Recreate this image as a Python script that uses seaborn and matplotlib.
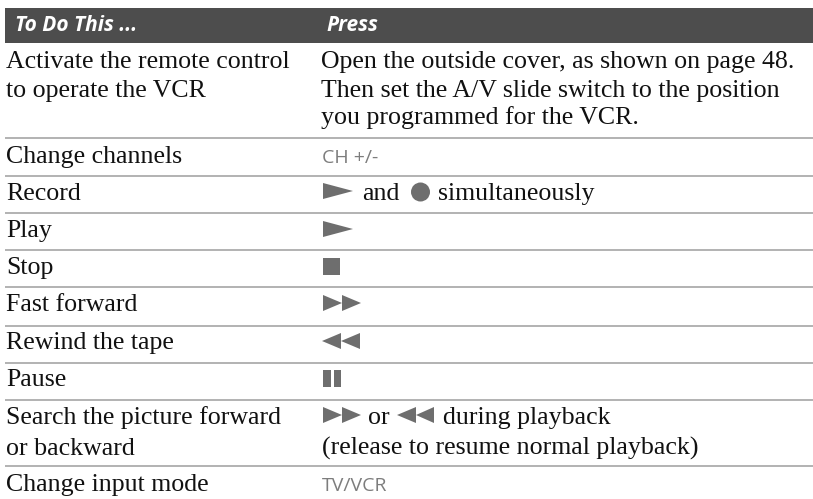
import seaborn as sns
import matplotlib
matplotlib.use("Agg")
import matplotlib.pyplot as plt
from matplotlib.patches import Polygon, Rectangle, Circle

sns.set_theme(style="white")

headers = ["To Do This ...", "Press"]
actions = ["Activate the remote control", "to operate the VCR", "Change channels", "Record", "Play", "Stop",
           "Fast forward", "Rewind the tape", "Pause", "Search the picture forward", "or backward",
           "Change input mode"]
open_cover = ["Open the outside cover, as shown on page 48.",
              "Then set the A/V slide switch to the position",
              "you programmed for the VCR."]
button_labels = ["CH +/-", "TV/VCR"]
record_words = ["and", "simultaneously"]
search_words = ["or", "during playback", "(release to resume normal playback)"]

W, H = 813, 499
DARK = "#4d4d4d"
RULE = "#b2b2b2"
ICON = "#6e6e6e"
BODY = dict(family="Liberation Serif", fontsize=18.6, color="#111111", va="baseline")
KEY = dict(family="Open Sans", fontsize=14, color="#7d7d7d", va="baseline")

fig = plt.figure(figsize=(W / 100, H / 100), dpi=100)
ax = fig.add_axes([0, 0, 1, 1])
ax.set_xlim(0, W)
ax.set_ylim(H, 0)
ax.axis("off")

# header band
ax.add_patch(Rectangle((5, 8), W - 5, 35, color=DARK, lw=0))
head = dict(color="white", family="Open Sans", style="italic", weight="bold", fontsize=15, va="baseline")
ax.text(15, 31, headers[0], **head)
ax.text(326, 31, headers[1], **head)

# row rules
for y in [138, 176, 213, 250, 287, 326, 363, 400, 466]:
    ax.plot([5, W], [y, y], color=RULE, lw=1.4, solid_capstyle="butt")

# left column
left_y = [68, 97, 163, 200, 237, 274, 311, 349, 386, 424, 455, 491]
for txt, y in zip(actions, left_y):
    ax.text(6, y, txt, **BODY)

# right column text
for txt, y in zip(open_cover, [68, 97, 124]):
    ax.text(321, y, txt, **BODY)
ax.text(322, 163, button_labels[0], **KEY)
ax.text(322, 491, button_labels[1], **KEY)
ax.text(362, 200, record_words[0], **BODY)
ax.text(438, 200, record_words[1], **BODY)
ax.text(368, 424, search_words[0], **BODY)
ax.text(443, 424, search_words[1], **BODY)
ax.text(322, 455, search_words[2], **BODY)


def right_tri(x0, x1, y0, y1):
    ax.add_patch(Polygon([(x0, y0), (x1, (y0 + y1) / 2), (x0, y1)], color=ICON, lw=0))


def left_tri(x0, x1, y0, y1):
    ax.add_patch(Polygon([(x1, y0), (x0, (y0 + y1) / 2), (x1, y1)], color=ICON, lw=0))


# button icons
right_tri(323, 353, 183, 199)
ax.add_patch(Circle((420.5, 192), 9.5, color=ICON, lw=0))
right_tri(323, 353, 221, 237)
ax.add_patch(Rectangle((323, 258), 17, 17, color=ICON, lw=0))
right_tri(323, 342, 295, 311)
right_tri(342, 361, 295, 311)
left_tri(322, 341, 333, 349)
left_tri(341, 360, 333, 349)
ax.add_patch(Rectangle((323, 370), 7.5, 17, color=ICON, lw=0))
ax.add_patch(Rectangle((333.5, 370), 7.5, 17, color=ICON, lw=0))
right_tri(323, 342, 407, 423)
right_tri(342, 361, 407, 423)
left_tri(397, 416, 407, 423)
left_tri(416, 434, 407, 423)

fig.savefig("out.png", dpi=100)
